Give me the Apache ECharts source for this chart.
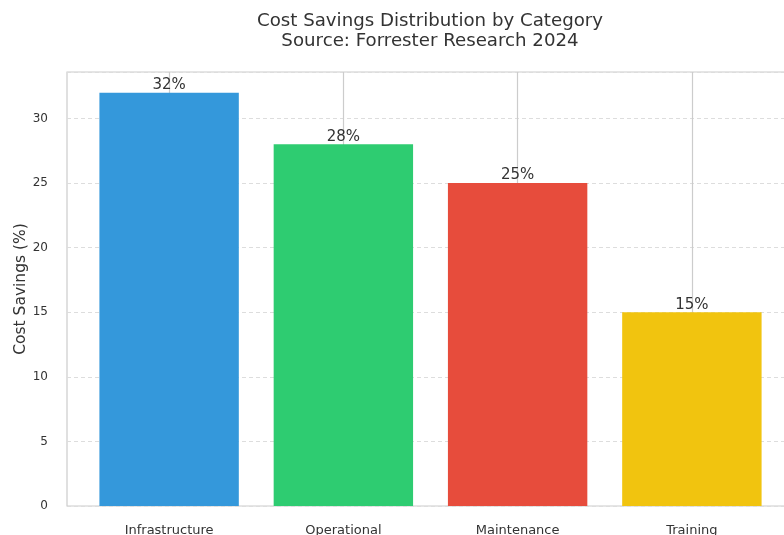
<!DOCTYPE html>
<html>
<head>
<meta charset="utf-8">
<script src="https://cdn.jsdelivr.net/npm/echarts@6/dist/echarts.min.js"></script>
<style>
html,body{margin:0;padding:0;background:#fff;}
#main{width:784px;height:535px;}
</style>
</head>
<body>
<div id="main"></div>
<script>
/*数据*/
var categories = ['Infrastructure', 'Operational', 'Maintenance', 'Training'];
var savings = [32, 28, 25, 15];
var barColors = ['#3498db', '#2ecc71', '#e74c3c', '#f1c40f'];
var positions = [0, 1, 2, 3];

var chart = echarts.init(document.getElementById('main'));

var barData = positions.map(function (p, i) {
    return { value: [p, savings[i]], itemStyle: { color: barColors[i] } };
});

var option = {
    backgroundColor: '#fff',
    textStyle: { fontFamily: 'DejaVu Sans' },
    title: {
        text: 'Cost Savings Distribution by Category\nSource: Forrester Research 2024',
        left: 425,
        textAlign: 'center',
        top: 6,
        textStyle: { fontSize: 18.2, fontWeight: 'normal', color: '#333', lineHeight: 20, fontFamily: 'DejaVu Sans' }
    },
    grid: {
        left: 67, width: 727, top: 72, height: 434,
        outerBoundsMode: 'none',
        containLabel: false,
        show: true, borderColor: '#cccccc', borderWidth: 1.2, backgroundColor: 'transparent'
    },
    xAxis: {
        type: 'value',
        min: -0.586,
        max: 3.586,
        axisLine: { show: false },
        axisTick: { show: false },
        splitLine: { show: false },
        axisLabel: {
            customValues: positions,
            margin: 18,
            fontSize: 13,
            color: '#333',
            formatter: function (v) { return categories[Math.round(v)]; }
        }
    },
    yAxis: {
        type: 'value',
        min: 0,
        max: 33.6,
        interval: 5,
        name: 'Cost Savings (%)',
        nameLocation: 'middle',
        nameGap: 38,
        nameMoveOverlap: false,
        nameTextStyle: { fontSize: 15.5, color: '#333' },
        axisLine: { show: false },
        axisTick: { show: false },
        axisLabel: {
            margin: 19,
            fontSize: 12,
            color: '#333',
            showMaxLabel: false,
            formatter: function (v) { return v % 5 === 0 ? v : ''; }
        },
        splitLine: { lineStyle: { color: '#dddddd', type: [4, 3], width: 1 } }
    },
    series: [
        {
            type: 'line',
            data: [],
            z: 1,
            markLine: {
                silent: true,
                symbol: 'none',
                z: 1,
                label: { show: false },
                lineStyle: { color: '#cccccc', type: 'solid', width: 1.2 },
                data: positions.map(function (p) { return { xAxis: p }; })
            }
        },
        {
            type: 'bar',
            z: 3,
            barWidth: '80%',
            data: barData,
            label: {
                show: true,
                position: 'top',
                distance: 0,
                fontSize: 15,
                color: '#333',
                formatter: function (p) { return p.value[1] + '%'; }
            }
        }
    ]
};
chart.setOption(option);
</script>
</body>
</html>
